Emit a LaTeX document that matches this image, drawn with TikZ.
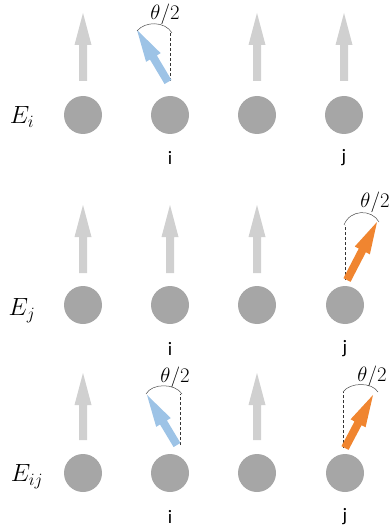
\documentclass[tikz,border=0pt]{standalone}
\usepackage{fontspec}
\newfontfamily\labelfont{Carlito}
\usetikzlibrary{calc}
\definecolor{dotgray}{HTML}{A6A6A6}
\definecolor{arrgray}{HTML}{D0D0D0}
\definecolor{arrblue}{HTML}{9DC3E6}
\definecolor{arrorange}{HTML}{F08530}
\tikzset{
  site/.style={circle,fill=dotgray,minimum size=38pt,inner sep=0pt},
  rowlabel/.style={font=\fontsize{25}{28}\selectfont},
  sitelabel/.style={font=\labelfont\fontsize{19}{21}\selectfont},
  anglabel/.style={font=\fontsize{22}{24}\selectfont},
  refline/.style={densely dashed,line width=0.6pt,black!80},
  angarc/.style={line width=0.5pt,black!70},
}
\newcommand\blockarrow[3]{%
  \path ($(#2)!32pt!(#1)$) coordinate (hh);
  \fill[#3] ($(#1)!4pt!90:(#2)$) -- ($(hh)!4pt!90:(#2)$) -- ($(hh)!8.5pt!90:(#2)$)
     -- (#2) -- ($(hh)!8.5pt!-90:(#2)$) -- ($(hh)!4pt!-90:(#2)$) -- ($(#1)!4pt!-90:(#2)$) -- cycle;
}
\begin{document}
\begin{tikzpicture}[x=1pt,y=-1pt]
\useasboundingbox (0,0) rectangle (391,529);
% ---------- row 1: E_i
\foreach \n/\x in {a/83,b/170,c/257,d/344}{\node[site] (r1\n) at (\x,115) {};}
\node[rowlabel] (l1) at (22,117) {$E_i$};
\node[sitelabel] (i1) at (170,158) {i};
\node[sitelabel] (j1) at (344,158) {j};
\foreach \n/\x in {a/83,c/257,d/344}{
  \coordinate (b1\n) at (\x,81); \coordinate (t1\n) at (\x,13);
  \blockarrow{b1\n}{t1\n}{arrgray}}
\coordinate (b1b) at (168,82); \coordinate (t1b) at (137,30);
\coordinate (d1b) at (170,33); \coordinate (e1b) at (170,81);
\draw[refline] (e1b) -- (d1b);
\blockarrow{b1b}{t1b}{arrblue}
\draw[angarc] (137,31) .. controls (145,21) and (165,21) .. (172,33);
\node[anglabel] (a1) at (165,14) {$\theta/2$};
% ---------- row 2: E_j
\foreach \n/\x in {a/83,b/170,c/257,d/345}{\node[site] (r2\n) at (\x,305) {};}
\node[rowlabel] (l2) at (22,311) {$E_j$};
\node[sitelabel] (i2) at (170,349) {i};
\node[sitelabel] (j2) at (345,349) {j};
\foreach \n/\x in {a/83,b/170,c/257}{
  \coordinate (b2\n) at (\x,273); \coordinate (t2\n) at (\x,205);
  \blockarrow{b2\n}{t2\n}{arrgray}}
\coordinate (b2d) at (347,280); \coordinate (t2d) at (377,222);
\coordinate (d2d) at (345,225); \coordinate (e2d) at (345,280);
\draw[refline] (e2d) -- (d2d);
\blockarrow{b2d}{t2d}{arrorange}
\draw[angarc] (344,225) .. controls (350,209) and (372,209) .. (379,222);
\node[anglabel] (a2) at (375,202) {$\theta/2$};
% ---------- row 3: E_ij
\foreach \n/\x in {a/83,b/170,c/257,d/345}{\node[site] (r3\n) at (\x,473) {};}
\node[rowlabel] (l3) at (27,477) {$E_{ij}$};
\node[sitelabel] (i3) at (170,517) {i};
\node[sitelabel] (j3) at (345,517) {j};
\foreach \n/\x in {a/83,c/257}{
  \coordinate (b3\n) at (\x,440); \coordinate (t3\n) at (\x,373);
  \blockarrow{b3\n}{t3\n}{arrgray}}
\coordinate (b3b) at (177,445); \coordinate (t3b) at (147,395);
\coordinate (d3b) at (180,394); \coordinate (e3b) at (180,445);
\draw[refline] (e3b) -- (d3b);
\blockarrow{b3b}{t3b}{arrblue}
\draw[angarc] (146,394) .. controls (152,383) and (175,383) .. (182,394);
\node[anglabel] (a3) at (175,377) {$\theta/2$};
\coordinate (b3d) at (345,448); \coordinate (t3d) at (373,395);
\coordinate (d3d) at (343,392); \coordinate (e3d) at (343,448);
\draw[refline] (e3d) -- (d3d);
\blockarrow{b3d}{t3d}{arrorange}
\draw[angarc] (343,392) .. controls (350,382) and (372,382) .. (378,392);
\node[anglabel] (a4) at (372,376) {$\theta/2$};
\end{tikzpicture}
\end{document}
